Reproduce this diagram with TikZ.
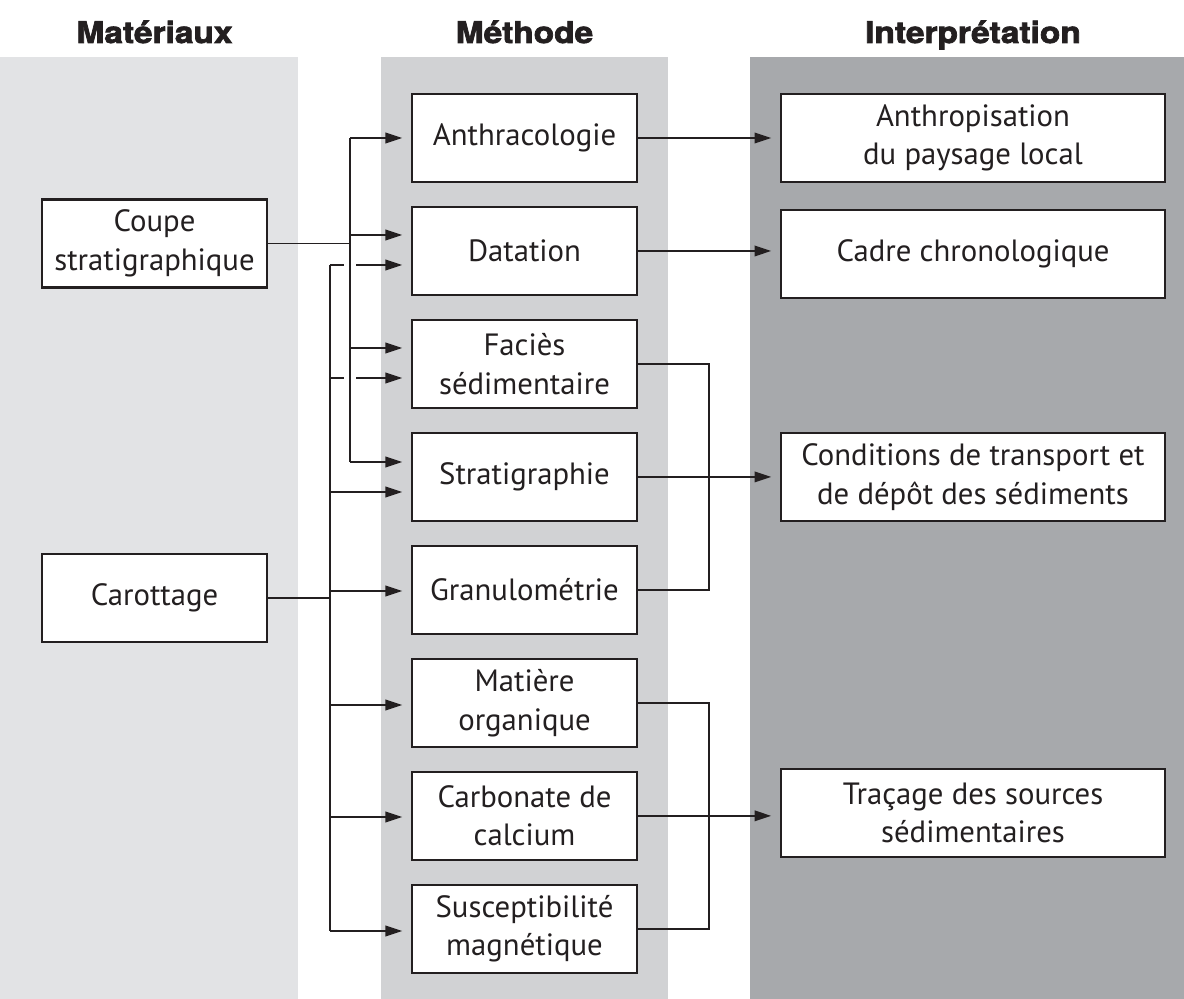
\documentclass[tikz,border=0pt]{standalone}
\usepackage{fontspec}
\setmainfont{PT Sans}
\newfontfamily\headfont[FakeStretch=1.12,FakeBold=2.5]{TeX Gyre Heros}
\usetikzlibrary{arrows.meta,positioning}
\definecolor{matgrey}{HTML}{E2E3E5}
\definecolor{metgrey}{HTML}{D1D2D4}
\definecolor{intgrey}{HTML}{A7A9AC}
\definecolor{ink}{HTML}{231F20}

\begin{document}
\begin{tikzpicture}[x=0.02cm,y=-0.02cm,font=\fontsize{17.5}{22}\selectfont,
   node distance=5mm,text=ink,
   box/.style={draw=ink,line width=1.4pt,fill=white,minimum height=1.76cm,
               align=center,inner sep=0pt,outer sep=0pt},
   mbox/.style={box,minimum width=4.5cm},
   ibox/.style={box,minimum width=7.68cm},
   head/.style={anchor=base,font=\headfont\bfseries\fontsize{17}{20}\selectfont},
   ln/.style={draw=ink,line width=1.1pt},
   arr/.style={ln,-{Triangle[length=9.5pt,width=6pt]},shorten >=5.6pt}]
  \useasboundingbox (0,0) rectangle (1184,999);
  % column panels
  \fill[matgrey] (0,57) rectangle (298,999);
  \fill[metgrey] (381,57) rectangle (668,999);
  \fill[intgrey] (750,57) rectangle (1184,999);
  \node[head] (hmat) at (154.5,43) {Matériaux};
  \node[head] (hmet) at (524.5,43) {Méthode};
  \node[head] (hint) at (973,43) {Interprétation};
  % materiaux
  \node[mbox] (coupe) at (154.5,243.5) {Coupe\\stratigraphique};
  \node[mbox] (car) at (154.5,598) {Carottage};
  % methode
  \node[mbox] (anth) at (524.5,138) {Anthracologie};
  \node[mbox,below=of anth] (dat) {Datation};
  \node[mbox,below=of dat] (fac) {Faciès\\sédimentaire};
  \node[mbox,below=of fac] (str) {Stratigraphie};
  \node[mbox,below=of str] (gra) {Granulométrie};
  \node[mbox,below=of gra] (mat) {Matière\\organique};
  \node[mbox,below=of mat] (carb) {Carbonate de\\calcium};
  \node[mbox,below=of carb] (sus) {Susceptibilité\\magnétique};
  % interpretation
  \node[ibox] (anthp) at (973,138) {Anthropisation\\du paysage local};
  \node[ibox] (cadre) at (973,254) {Cadre chronologique};
  \node[ibox] (cond) at (973,477) {Conditions de transport et\\de dépôt des sédiments};
  \node[ibox] (trac) at (973,813) {Traçage des sources\\sédimentaires};
  % carottage branch
  \coordinate (ctop) at (330,265);
  \coordinate (cbot) at (330,931);
  \draw[ln] (car.east) -- (car.east -| ctop);
  \draw[ln] (ctop) -- (cbot);
  \foreach \n/\y in {dat/265,fac/378,str/492,gra/591,mat/705,carb/817,sus/931}{
    \coordinate (p) at (330,\y);
    \draw[arr] (p) -- (p -| \n.west);
  }
  % coupe branch, cut across the other one
  \coordinate (ktop) at (350,138);
  \coordinate (kbot) at (350,462);
  \draw[ln,preaction={draw,white,line width=7pt}] (ktop) -- (kbot);
  \draw[ln] (coupe.east) -- (coupe.east -| ktop);
  \foreach \n/\y in {anth/138,dat/235,fac/348,str/462}{
    \coordinate (q) at (350,\y);
    \draw[arr] (q) -- (q -| \n.west);
  }
  % methode -> interpretation
  \draw[arr] (anth.east) -- (anth.east -| anthp.west);
  \draw[arr] (dat.east) -- (dat.east -| cadre.west);
  \draw[ln] (fac.east) -- ++(72,0) |- (gra.east);
  \draw[arr] (str.east) -- (str.east -| cond.west);
  \draw[ln] (mat.east) -- ++(72,0) |- (sus.east);
  \draw[arr] (carb.east) -- (carb.east -| trac.west);
\end{tikzpicture}
\end{document}
